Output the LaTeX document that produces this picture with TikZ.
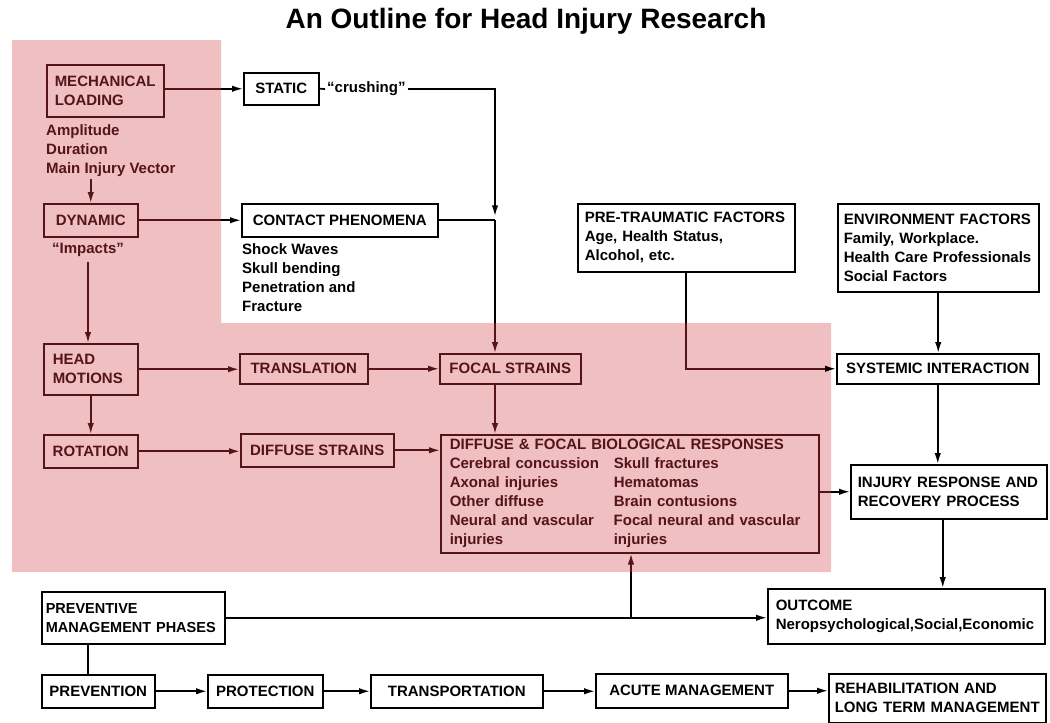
\documentclass[tikz,border=0pt]{standalone}
\usepackage{fontspec}
\setmainfont{Liberation Sans}
\usetikzlibrary{arrows.meta, positioning}

\definecolor{pinkbg}{RGB}{239,191,193}
\definecolor{maroon}{RGB}{84,20,24}
\newcommand{\boxfont}{\fontsize{15}{19}\selectfont\bfseries\hyphenpenalty=10000}
\newcommand{\bioline}[2]{\makebox[164pt][l]{#1}#2}

\begin{document}
\begin{tikzpicture}[
            x=1pt, y=-1pt,                     % pixel-like units, y downwards
            box/.style={
                rectangle,
                draw=black,
                fill=white,
                line width=1.5pt,
                anchor=north west,
                inner xsep=6pt,
                inner ysep=2pt,
                font=\boxfont,
                text=black
            },
            redbox/.style={box, draw=maroon, fill=none, text=maroon},
            lbox/.style={align=left, inner xsep=8pt, text width=#1},
            note/.style={font=\boxfont, inner sep=0pt, align=left},
            line/.style={
                draw,
                line width=1.7pt,
                -{Latex[length=11pt, width=6.5pt]}
            },
            link/.style={draw, line width=1.7pt},
            redline/.style={line, draw=maroon},
            redlink/.style={link, draw=maroon}
        ]
            \useasboundingbox (0,0) rectangle (1050,723);

            % --- SHADED AREA ---
            \coordinate (pinkin) at (221,323);
            \coordinate (pinkout) at (831,572);
            \fill[pinkbg] (12,40) -- (pinkin |- 12,40) -- (pinkin) -- (pinkout |- pinkin)
                -- (pinkout) -- (12,572) -- cycle;

            % --- TITLE ---
            \node[font=\fontsize{28}{32}\selectfont\bfseries, anchor=base] (title) at (526,28)
                {An Outline for Head Injury Research};

            % --- LOADING ---
            \node [redbox, lbox=101pt, minimum height=52pt] (mech) at (46,64) {MECHANICAL\\LOADING};
            \node [note, anchor=north west, text=maroon] (mechinfo) at (46,124)
                {Amplitude\\Duration\\Main Injury Vector};
            \node [redbox, minimum width=94pt, minimum height=33pt] (dyn) at (43,203) {DYNAMIC};
            \node [note, text=maroon] (impacts) at (88,250) {“Impacts”};

            \node [box, minimum width=75pt, minimum height=32pt] (static) at (243,72) {STATIC};
            \node [note, anchor=west, inner xsep=2pt] (crush) at (325,89) {“crushing”};
            \node [box, minimum width=196pt, minimum height=33pt] (contact) at (241,203) {CONTACT PHENOMENA};
            \node [note, anchor=north west] (contactinfo) at (242,243)
                {Shock Waves\\Skull bending\\Penetration and\\Fracture};

            % --- MOTIONS AND STRAINS ---
            \node [redbox, lbox=76pt, inner xsep=9pt, minimum height=51pt] (head) at (43,343) {HEAD\\MOTIONS};
            \node [redbox, minimum width=128pt, minimum height=30pt] (trans) at (239,353) {TRANSLATION};
            \node [redbox, minimum width=141pt, minimum height=30pt] (focal) at (439,353) {FOCAL STRAINS};
            \node [redbox, minimum width=94pt, minimum height=33pt] (rot) at (43,434) {ROTATION};
            \node [redbox, minimum width=153pt, minimum height=33pt] (dstrain) at (240,433) {DIFFUSE STRAINS};
            \node [redbox, lbox=360pt, inner xsep=9pt, minimum height=118pt] (bio) at (440,434) {
                DIFFUSE \& FOCAL BIOLOGICAL RESPONSES\\
                \bioline{Cerebral concussion}{Skull fractures}\\
                \bioline{Axonal injuries}{Hematomas}\\
                \bioline{Other diffuse}{Brain contusions}\\
                \bioline{Neural and vascular}{Focal neural and vascular}\\
                \bioline{injuries}{injuries}
            };

            % --- FACTORS AND RESPONSE ---
            \node [box, lbox=203pt, inner xsep=7pt, minimum height=68pt] (pretrauma) at (577,203)
                {PRE-TRAUMATIC FACTORS\\Age, Health Status,\\Alcohol, etc.};
            \node [box, lbox=189pt, inner xsep=6pt, minimum height=88pt] (env) at (837,203)
                {ENVIRONMENT FACTORS\\Family, Workplace.\\Health Care Professionals\\Social Factors};
            \node [box, minimum width=202pt, minimum height=30pt] (sys) at (836,353) {SYSTEMIC INTERACTION};
            \node [box, lbox=182pt, inner xsep=7pt, minimum height=54pt] (injury) at (850,464)
                {INJURY RESPONSE AND\\RECOVERY PROCESS};
            \node [box, lbox=261pt, inner xsep=8pt, minimum height=55pt] (outcome) at (767,588)
                {OUTCOME\\Neropsychological,Social,Economic};

            % --- MANAGEMENT PHASES ---
            \node [box, lbox=175pt, inner xsep=4pt, minimum height=52pt,
                   font=\fontsize{14.5}{19}\selectfont\bfseries] (preventive) at (41,591)
                {PREVENTIVE\\MANAGEMENT PHASES};
            \node [box, minimum width=113pt, minimum height=33pt] (prevention) at (41,674) {PREVENTION};
            \node [box, minimum width=115pt, minimum height=33pt] (protection) at (207,674) {PROTECTION};
            \node [box, minimum width=172pt, minimum height=33pt] (transport) at (370,674) {TRANSPORTATION};
            \node [box, minimum width=192pt, minimum height=34pt] (acute) at (595,673) {ACUTE MANAGEMENT};
            \node [box, lbox=205pt, inner xsep=6pt, minimum height=49pt] (rehab) at (828,673)
                {REHABILITATION AND\\LONG TERM MANAGEMENT};

            % --- LINKS ---
            \coordinate (jc) at (contact.east -| 495,0);
            \coordinate (jp) at (preventive.east -| 631,0);

            \path [redlink] (mech.east |- static.west) -- (pinkin |- static.west);
            \path [line] (pinkin |- static.west) -- (static.west);
            \path [redline] ([yshift=-3pt]mechinfo.south -| dyn.north) -- (dyn.north);
            \path [redlink] (dyn.east) -- (pinkin |- dyn.east);
            \path [line] (pinkin |- dyn.east) -- (contact.west |- dyn.east);
            \path [redline] ([yshift=-5pt]impacts.south) -- (impacts.south |- head.north);

            \path [link] (static.east) -- (crush.west);
            \path [line, shorten >=4pt] (crush.east) -| (jc);
            \path [link] (contact.east) -- (jc);
            \path [link] (jc) -- (jc |- pinkin);
            \path [redline] (jc |- pinkin) -- (jc |- focal.north);

            \path [redline] (head.east) -- (head.east -| trans.west);
            \path [redline] (trans.east) -- (focal.west);
            \path [redline] (head.south) -- (rot.north);
            \path [redline] (rot.east) -- (rot.east -| dstrain.west);
            \path [redline] (dstrain.east) -- (dstrain.east -| bio.west);
            \path [redline] (jc |- focal.south) -- (jc |- bio.north);

            \path [redlink] (bio.east |- injury.west) -- (pinkout |- injury.west);
            \path [line] (pinkout |- injury.west) -- (injury.west);

            \path [link] (pretrauma.south) -- (pretrauma.south |- pinkin);
            \path [redlink] (pretrauma.south |- pinkin) |- (pinkout |- sys.west);
            \path [line] (pinkout |- sys.west) -- (sys.west);
            \path [line] (env.south) -- (env.south |- sys.north);
            \path [line] (sys.south) -- (sys.south |- injury.north);
            \path [line] ([xshift=-6pt]injury.south) -- ([xshift=-6pt]injury.south |- outcome.north);

            \path [line] (preventive.east) -- (preventive.east -| outcome.west);
            \path [link] (jp) -- (jp |- pinkout);
            \path [redline] (jp |- pinkout) -- (jp |- bio.south);
            \path [link] ([xshift=-10pt]prevention.north |- preventive.south) -- ([xshift=-10pt]prevention.north);

            \foreach \a/\b in {prevention/protection, protection/transport, transport/acute}
                \path [line] (\a.east) -- (\a.east -| \b.west);
            \path [line] (acute.east) -- (acute.east -| rehab.west);
        \end{tikzpicture}
\end{document}
